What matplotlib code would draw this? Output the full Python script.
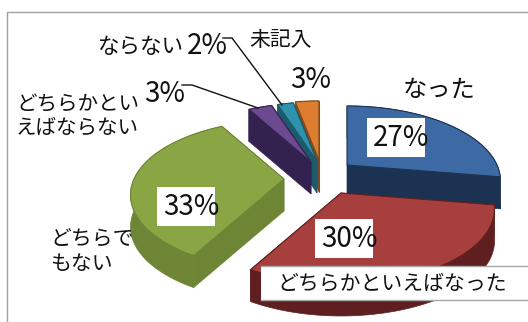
import numpy as np
import matplotlib
matplotlib.use('Agg')
import matplotlib.pyplot as plt
from matplotlib.patches import Polygon, Rectangle

plt.rcParams['font.family'] = ['Noto Sans CJK JP', 'DejaVu Sans']

# data, clockwise from 12 o'clock
labels = ['なった', 'どちらかといえばなった', 'どちらでもない', 'どちらかといえばならない', 'ならない', '未記入']
values = [27, 30, 33, 3, 2, 3]
top_colors = ['#3d6aa5', '#a63f3d', '#8aa544', '#6b4a90', '#2f93ae', '#dd7d30']
wall_colors = ['#1c3252', '#5f1f20', '#6f8536', '#33224f', '#1d5a6b', '#7c4a1c']

# pixel position of the tip of each exploded slice
tips = [(347, 165), (341, 193), (284, 179), (311, 162), (317, 161), (319, 160)]

# pie projection
RX = 150
RY = 71.6
PERSP = 0.213
DEPTH = 32


def project(tip, angle):
	u = np.sin(angle)
	v = -np.cos(angle)
	s = 1 / (1 - PERSP * v)
	return tip[0] + RX * u * s, tip[1] + RY * v * s


fig = plt.figure(figsize=(5.28, 3.22), dpi=100)
ax = fig.add_axes([0, 0, 1, 1])
ax.set_xlim(0, 528)
ax.set_ylim(322, 0)
ax.axis('off')

# chart frame
ax.plot([6.5, 6.5, 528], [322, 11.5, 11.5], color='#a0a0a0', lw=1)

fracs = np.array(values) / sum(values)
ends = np.cumsum(fracs) * 2 * np.pi
starts = ends - fracs * 2 * np.pi

# back to front, so a slice's wall never lies over its neighbour's top
for i in [5, 4, 3, 0, 2, 1]:
	tip = tips[i]
	angles = np.linspace(starts[i], ends[i], 60)
	arc = np.array([project(tip, a) for a in angles])
	top = np.vstack([[tip], arc])
	low = top + [0, DEPTH]
	# the two cut faces and the rim
	for a, b in [(top[0], top[1]), (top[0], top[-1])]:
		ax.add_patch(Polygon([a, b, b + [0, DEPTH], a + [0, DEPTH]], fc=wall_colors[i], ec=wall_colors[i], lw=0.5))
	rim = np.vstack([arc, low[:0:-1]])
	ax.add_patch(Polygon(rim, fc=wall_colors[i], ec=wall_colors[i], lw=0.5))
	ax.add_patch(Polygon(top, fc=top_colors[i], ec=wall_colors[i], lw=0.8))

# label band over the red slice
ax.add_patch(Rectangle((261, 266), 270, 33.5, fc='white', ec='none', zorder=4))
ax.plot([261, 528], [266, 266], color='#a8a8a8', lw=1, zorder=4)
ax.plot([261, 528], [299.5, 299.5], color='#a8a8a8', lw=1, zorder=4)
ax.text(277, 284, labels[1], fontsize=15, va='center', ha='left', color='#111111', zorder=5)

# percent labels in white boxes
for x, y, i in [(367, 118, 0), (315, 219, 1), (157, 187, 2)]:
	ax.add_patch(Rectangle((x, y), 58, 39, fc='white', ec='none', zorder=4))
	ax.text(x + 34, y + 20, '%d%%' % values[i], fontsize=20, va='center', ha='center', color='#111111', zorder=5)

ax.text(165, 94, '%d%%' % values[3], fontsize=20, va='center', ha='center', color='#111111')
ax.text(207, 46, '%d%%' % values[4], fontsize=20, va='center', ha='center', color='#111111')
ax.text(311, 80, '%d%%' % values[5], fontsize=20, va='center', ha='center', color='#111111')

ax.text(439, 90, labels[0], fontsize=17.5, va='center', ha='center', color='#111111')
ax.text(16, 116, 'どちらかとい\nえばならない', fontsize=14.8, va='center', ha='left', color='#111111', linespacing=1.05)
ax.text(50, 251, 'どちらで\nもない', fontsize=15, va='center', ha='left', color='#111111', linespacing=1.2)
ax.text(141, 47, labels[4], fontsize=15.5, va='center', ha='center', color='#111111')
ax.text(281, 40, labels[5], fontsize=15, va='center', ha='center', color='#111111')

# leader lines
ax.plot([223, 232, 282], [38, 38, 105], color='#111111', lw=1, zorder=6)
ax.plot([182, 192, 258], [85, 85, 108], color='#111111', lw=1, zorder=6)

fig.savefig('out.png', dpi=100)
plt.close(fig)
